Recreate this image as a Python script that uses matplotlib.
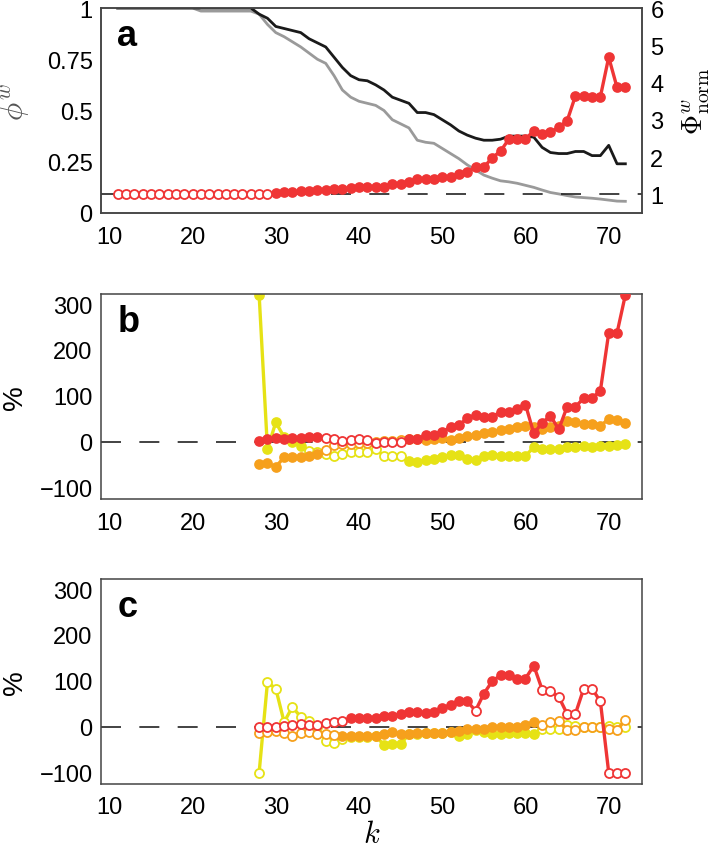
import numpy as np
import matplotlib.pyplot as plt

plt.rcParams['font.family'] = ['Liberation Sans', 'DejaVu Sans']
plt.rcParams['mathtext.fontset'] = 'cm'

# panel a, k = 11..72
k_a = np.arange(11, 73)
phi_black = [1.0, 1.0, 1.0, 1.0, 1.0, 1.0, 1.0, 1.0, 1.0, 1.0, 1.0, 1.0, 1.0, 1.0, 1.0, 1.0, 1.0,
             0.97, 0.95, 0.91, 0.90, 0.89, 0.88, 0.85, 0.83, 0.81, 0.76,
             0.71, 0.67, 0.65, 0.645, 0.625, 0.60, 0.565, 0.55, 0.535, 0.49,
             0.49, 0.48, 0.455, 0.43, 0.40, 0.38, 0.365, 0.355, 0.355, 0.36,
             0.375, 0.375, 0.375, 0.37, 0.32, 0.295, 0.29, 0.29, 0.30, 0.30,
             0.28, 0.28, 0.33, 0.24, 0.24]
phi_gray = [1.0, 1.0, 1.0, 1.0, 1.0, 1.0, 1.0, 1.0, 1.0, 1.0,
            0.985, 0.985, 0.985, 0.985, 0.985, 0.985, 0.985,
            0.97, 0.92, 0.88, 0.86, 0.835, 0.81, 0.78, 0.75, 0.73, 0.67,
            0.60, 0.565, 0.545, 0.535, 0.525, 0.50, 0.455, 0.435, 0.415, 0.355,
            0.345, 0.34, 0.315, 0.29, 0.265, 0.235, 0.21, 0.185, 0.17, 0.157,
            0.152, 0.145, 0.135, 0.125, 0.112, 0.10, 0.093, 0.085, 0.078, 0.075,
            0.072, 0.068, 0.063, 0.058, 0.057]
phi_norm = [1.0, 1.0, 1.0, 1.0, 1.0, 1.0, 1.0, 1.0, 1.0, 1.0,
            1.0, 1.0, 1.0, 1.0, 1.0, 1.0, 1.0, 1.0, 1.0,
            1.04, 1.06, 1.07, 1.08, 1.10, 1.11, 1.12, 1.14, 1.15, 1.17,
            1.19, 1.19, 1.20, 1.20, 1.27, 1.27, 1.33, 1.40, 1.40, 1.42,
            1.46, 1.47, 1.54, 1.60, 1.73, 1.73, 1.98, 2.16, 2.48, 2.48,
            2.49, 2.70, 2.62, 2.66, 2.80, 2.97, 3.64, 3.64, 3.62, 3.62,
            4.68, 3.87, 3.87]
phi_norm_open = list(range(11, 30))

# panels b and c, k = 28..72
k_bc = np.arange(28, 73)
b_red = [2, 5, 7, 6, 8, 8, 10, 10, 8, 5, 2, 3, 5, 4, -2, 0, 0, 0, 6, 6,
         14, 15, 21, 32, 36, 51, 58, 54, 54, 65, 65, 71, 81, 18, 41,
         56, 27, 76, 76, 95, 95, 111, 237, 237, 320]
b_orange = [-49, -47, -55, -34, -34, -34, -32, -27, -18, -7, -5, -5, -3, -3, 0,
            1, 2, 3, 6, 6, 4, 6, 7, 4, 7, 12, 15, 19, 21, 26,
            28, 32, 35, 32, 28, 32, 35, 44, 43, 39, 39, 34, 50, 48, 41]
b_yellow = [320, -16, 42, 10, -1, -9, -20, -23, -27, -31, -27, -23, -23, -22, -16,
            -31, -31, -31, -42, -44, -40, -38, -34, -29, -29, -37, -40, -32, -29, -31,
            -31, -31, -31, -12, -16, -16, -15, -12, -12, -10, -11, -9, -9, -7, -4]
b_red_open = list(range(36, 46))
b_orange_open = list(range(36, 46))
b_yellow_open = list(range(34, 46))

c_red = [0, 0, 0, 2, 4, 6, 4, 4, 8, 11, 13, 18, 18, 18, 20,
         24, 23, 28, 32, 32, 30, 32, 40, 48, 57, 55, 35, 72, 99, 112,
         112, 105, 105, 133, 81, 77, 65, 28, 28, 83, 83, 55, -100, -100, -100]
c_orange = [-14, -12, -9, -14, -21, -14, -11, -16, -16, -18, -20, -20, -20, -20, -20,
            -16, -12, -16, -16, -14, -14, -14, -14, -12, -9, -5, -5, -5, -1, 0,
            0, 0, 4, 11, 4, 10, 13, -7, -7, 0, 0, 0, -5, -7, 15]
c_yellow = [-100, 97, 83, 10, 43, 21, 13, -1, -31, -36, -27, -23, -23, -23, -20,
            -40, -38, -38, -16, -16, -14, -14, -14, -12, -20, -16, -7, -11, -16, -16,
            -14, -14, -14, -16, -5, -5, -5, 4, 2, 0, 0, 0, 2, 0, -1]
c_red_open = list(range(28, 39)) + [54] + list(range(62, 73))
c_orange_open = list(range(28, 38)) + list(range(62, 73))
c_yellow_open = list(range(28, 39)) + list(range(62, 73))

RED = '#ef3535'
ORANGE = '#f6a01c'
YELLOW = '#e6e215'
FRAME = '#444444'
DASH = (0, (12, 11))


def draw_series(ax, k, v, color, open_k, z):
    k = np.asarray(k)
    v = np.asarray(v, dtype=float)
    is_open = np.isin(k, open_k)
    ax.plot(k, v, color=color, lw=2.4, zorder=z)
    ax.plot(k[~is_open], v[~is_open], ls='none', marker='o', ms=6.5,
            mfc=color, mec=color, mew=1.2, zorder=z + 0.1)
    ax.plot(k[is_open], v[is_open], ls='none', marker='o', ms=6.5,
            mfc='white', mec=color, mew=1.3, zorder=z + 0.1)


def style(ax):
    for s in ax.spines.values():
        s.set_color(FRAME)
        s.set_linewidth(1.1)
    ax.tick_params(length=0, labelsize=17)
    ax.tick_params(axis='x', pad=9)
    ax.tick_params(axis='y', pad=6)
    ax.set_xlim(9, 74)
    ax.set_xticks([10, 20, 30, 40, 50, 60, 70])


fig = plt.figure(figsize=(7.15, 8.53), dpi=100)
W, H = 715, 853
left, width, height = 101 / W, 541 / W, 205 / H

# panel a
ax_a = fig.add_axes([left, 1 - 214 / H, width, height])
style(ax_a)
ax_a.plot(k_a, phi_gray, color='#9a9a9a', lw=2.0, zorder=2)
ax_a.plot(k_a, phi_black, color='#1a1a1a', lw=2.0, zorder=2)
ax_a.set_ylim(0, 1)
ax_a.set_yticks([0, 0.25, 0.5, 0.75, 1])
ax_a.set_yticklabels(['0', '0.25', '0.5', '0.75', '1'])
ax_a.set_ylabel(r'$\phi^w$', fontsize=22, color='#555555')
ax_a.yaxis.set_label_coords(-0.13, 0.55)
ax_a.text(0.03, 0.82, 'a', transform=ax_a.transAxes, fontsize=26,
          fontweight='bold', va='baseline')

ax_a2 = ax_a.twinx()
style(ax_a2)
ax_a2.axhline(1, color='#222222', lw=1.2, ls=DASH, zorder=1)
draw_series(ax_a2, k_a, phi_norm, RED, phi_norm_open, 3)
ax_a2.set_ylim(0.5, 6)
ax_a2.set_yticks([1, 2, 3, 4, 5, 6])
ax_a2.set_ylabel(r'$\Phi^w_{\mathrm{norm}}$', fontsize=20)
ax_a2.yaxis.set_label_coords(1.072, 0.55)

# panels b and c
panels = [
    ('b', 500, b_red, b_orange, b_yellow, b_red_open, b_orange_open, b_yellow_open),
    ('c', 785, c_red, c_orange, c_yellow, c_red_open, c_orange_open, c_yellow_open),
]
for letter, bottom_px, red, orange, yellow, r_open, o_open, y_open in panels:
    ax = fig.add_axes([left, 1 - bottom_px / H, width, height])
    style(ax)
    ax.axhline(0, color='#222222', lw=1.2, ls=DASH, zorder=1)
    draw_series(ax, k_bc, yellow, YELLOW, y_open, 2)
    draw_series(ax, k_bc, orange, ORANGE, o_open, 3)
    draw_series(ax, k_bc, red, RED, r_open, 4)
    ax.set_ylim(-125, 322)
    ax.set_yticks([-100, 0, 100, 200, 300])
    ax.set_yticklabels(['\u2212100', '0', '100', '200', '300'])
    ax.set_ylabel('%', fontsize=20)
    ax.yaxis.set_label_coords(-0.135, 0.5)
    ax.text(0.03, 0.82, letter, transform=ax.transAxes, fontsize=26,
            fontweight='bold', va='baseline')

fig.text((101 + 642) / 2 / W, 1 - 835 / H, r'$k$', fontsize=22,
         ha='center', va='center')

fig.savefig('out.png', dpi=100)
